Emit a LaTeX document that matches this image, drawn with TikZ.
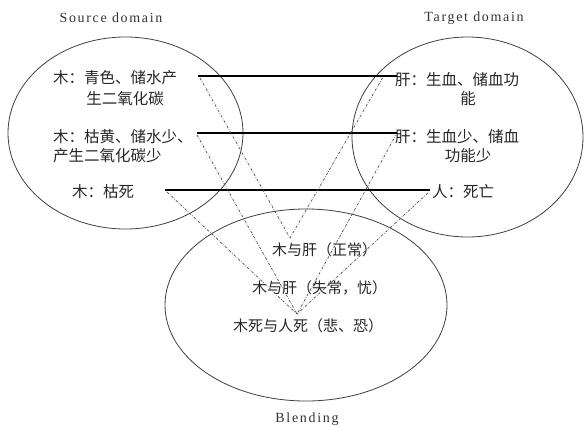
\documentclass[tikz,border=0pt]{standalone}
\usepackage{fontspec}
\setmainfont{Liberation Serif}
\newfontfamily\cjk{Noto Sans CJK SC}
\newfontfamily\lat[LetterSpace=12]{Liberation Serif}
\begin{document}
\begin{tikzpicture}[x=1pt,y=-1pt,
  circ/.style={draw=black!75,line width=0.8pt},
  solidline/.style={draw=black,line width=2.1pt},
  dashline/.style={draw=black!70,line width=0.7pt,dash pattern=on 2.5pt off 1.5pt on 0.6pt off 1.5pt},
  ctext/.style={font=\cjk\fontsize{15.5}{18}\selectfont,text=black!85,inner sep=0pt},
  btext/.style={font=\cjk\fontsize{15}{18}\selectfont,text=black!85,inner sep=0pt},
  ltext/.style={font=\lat\fontsize{14}{16}\selectfont,text=black!80,inner sep=0pt}]
\useasboundingbox (0,0) rectangle (584,426);
\fill[white] (0,0) rectangle (584,426);
% ellipses
\draw[circ] (125.5,133) ellipse [x radius=117.5, y radius=96];
\draw[circ] (467.5,137) ellipse [x radius=115.5, y radius=100];
\draw[circ] (306,305) ellipse [x radius=141, y radius=96];
% titles
\node[ltext] (srcl) at (111,18) {Source domain};
\node[ltext] (tgtl) at (474,18) {Target domain};
\node[ltext] (blnl) at (307,419) {Blending};
% source texts
\node[ctext,anchor=west] (s1) at (53,78) {木：青色、储水产};
\node[ctext] (s1b) at (125,99) {生二氧化碳};
\node[ctext,anchor=west] (s2) at (53,137) {木：枯黄、储水少、};
\node[ctext,anchor=west] (s2b) at (53,156) {产生二氧化碳少};
\node[ctext,anchor=west] (s3) at (72,192) {木：枯死};
% target texts
\node[ctext,anchor=west] (t1) at (395,80) {肝：生血、储血功};
\node[ctext] (t1b) at (468,99) {能};
\node[ctext,anchor=west] (t2) at (395,137) {肝：生血少、储血};
\node[ctext] (t2b) at (468,156) {功能少};
\node[ctext,anchor=west] (t3) at (432,192) {人：死亡};
% blending texts
\node[btext,anchor=west] (b1) at (272,250) {木与肝（正常）};
\node[btext,anchor=west] (b2) at (252,288) {木与肝（失常，忧）};
\node[btext,anchor=west] (b3) at (233,326) {木死与人死（悲、恐）};
% connector ends
\coordinate (a1) at (198,76);
\coordinate (c1) at (397,76);
\coordinate (a2) at (197,133);
\coordinate (c2) at (397,133);
\coordinate (a3) at (165,190);
\coordinate (c3) at (430,190);
\coordinate (da1) at (200,78);
\coordinate (dc1) at (383,77);
\coordinate (da2) at (197,135);
\coordinate (dc2) at (396,135);
\coordinate (da3) at (167,192);
\coordinate (dc3) at (429,192);
\coordinate (v1) at (290,238);
\coordinate (v2) at (297,314);
% solid lines
\draw[solidline] (a1) -- (c1);
\draw[solidline] (a2) -- (c2);
\draw[solidline] (a3) -- (c3);
% dashed lines
\draw[dashline] (da1) -- (v1) -- (dc1);
\draw[dashline] (da2) -- (v2) -- (dc2);
\draw[dashline] (da3) -- (v2) -- (dc3);
\end{tikzpicture}
\end{document}
